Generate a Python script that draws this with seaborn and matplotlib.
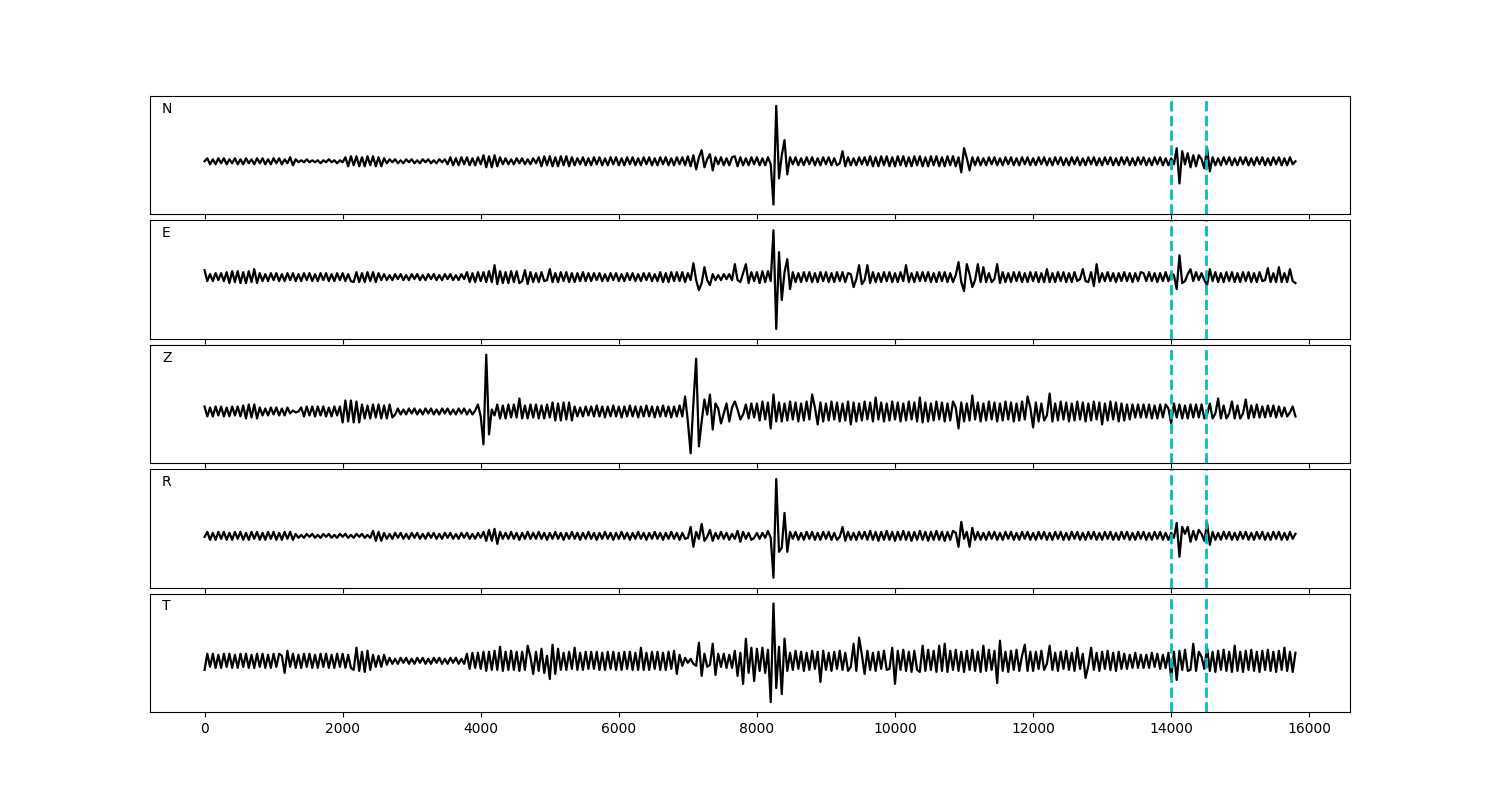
import numpy as np
import pandas as pd
import matplotlib
matplotlib.use("Agg")
import matplotlib.pyplot as plt
import seaborn as sns

STEP = 40  # time units between read-off samples
channels = ["N", "E", "Z", "R", "T"]
picks = [14000, 14500]

N_rows = [
    [0,3,-3,2,-3,3,-2,3,-3,2,-2,3,-3,2,-3,3,-2,2,-3,3],
    [-2,3,-3,2,-3,3,-2,3,-3,2,-2,4,-4,2,-1,1,-1,2,-1,1],
    [-1,1,-2,1,-1,2,-1,1,-2,1,-1,4,-5,5,-4,5,-5,4,-5,5],
    [-4,5,-5,4,-5,3,-2,2,-1,2,-2,1,-2,2,-1,2,-2,1,-2,2],
    [-1,2,-2,1,-2,2,-1,2,-3,4,-4,3,-4,4,-3,4,-4,3,-4,4],
    [-3,6,-6,5,-6,6,-5,4,-3,3,-3,2,-3,3,-2,3,-3,2,-3,3],
    [-2,4,-5,5,-4,5,-5,4,-5,5,-4,5,-5,4,-4,3,-3,4,-4,3],
    [-4,4,-3,4,-4,3,-4,4,-3,4,-4,3,-4,4,-3,4,-4,3,-4,4],
    [-3,4,-4,3,-4,4,-3,4,-4,3,-4,4,-3,4,-4,5,-5,6,-8,4],
    [11,-6,2,7,-9,4,-3,4,-4,3,-4,4,5,-5,4,-4,3,-4,4,-3],
    [4,-4,3,-4,4,-3,-43,55,-17,6,21,-13,4,-3,4,-4,3,-4,4,-3],
    [4,-4,3,-4,4,-3,4,-4,3,-4,-2,10,-5,4,-4,3,-4,4,-3,4],
    [-4,5,-5,4,-5,5,-4,5,-5,4,-5,5,-4,5,-5,4,-5,5,-4,5],
    [-5,4,-5,5,-4,5,-5,4,-5,5,-4,5,-5,4,-11,13,3,-9,4,-4],
    [4,-4,3,-4,4,-3,4,-4,3,-4,4,-3,4,-4,3,-4,4,-3,4,-4],
    [3,-4,4,-3,4,-4,3,-4,4,-3,4,-4,3,-4,4,-3,4,-4,3,-4],
    [4,-3,4,-4,3,-4,4,-3,4,-4,3,-4,4,-3,4,-4,3,-4,4,-3],
    [4,-4,3,-4,4,-3,4,-4,3,-4,3,-3,13,-22,10,-3,8,-6,6,-5],
    [6,2,-7,13,-10,4,-4,3,-4,4,-3,4,-4,3,-4,4,-3,4,-4,3],
    [-4,4,-3,4,-4,3,-4,4,-3,4,-4,3,-4,4,-3,0],
]

E_rows = [
    [7,-4,3,-4,4,-3,4,-4,5,-6,6,-5,6,-6,5,-6,6,-5,8,-6],
    [4,-4,3,-4,4,-3,4,-4,3,-4,4,-3,4,-4,3,-4,4,-3,4,-4],
    [3,-4,4,-3,4,-4,3,-4,4,-3,4,-4,3,-4,-5,5,-5,4,-5,5],
    [-4,5,-5,4,-3,3,-3,2,-3,3,-2,3,-3,2,-3,3,-2,3,-3,2],
    [-3,3,-2,3,-3,2,-3,3,-2,3,-3,2,-3,3,-2,5,-5,4,-5,5],
    [-4,5,-5,6,-5,12,-7,6,-6,5,-6,6,-5,6,-6,-4,7,-7,5,-5],
    [4,-5,5,-4,-3,8,-5,4,-5,5,-4,5,-5,4,-5,4,-4,5,-4,4],
    [-4,4,-3,4,-4,3,-4,4,-3,4,-4,3,-4,4,-3,4,-4,3,-4,4],
    [-3,4,-4,3,-4,5,-5,4,-5,5,-4,5,-4,5,-5,4,-3,14,-3,-13],
    [-6,10,-3,-8,3,-3,2,-3,3,-2,3,-3,13,-3,-5,4,13,-6,5,-4],
    [5,-6,6,-5,6,-4,47,-52,25,-23,5,18,-12,5,-5,4,-5,5,-4,5],
    [-5,4,-5,5,-4,5,-5,4,-5,5,-4,5,-5,4,3,-10,-2,12,-7,-3],
    [12,-6,5,-5,4,-5,5,-4,5,-5,4,-5,5,-4,12,-5,4,-5,5,-4],
    [5,-4,5,-5,4,-5,5,-4,5,-5,4,-5,2,15,-5,-14,13,3,-10,-3],
    [13,-5,10,-5,4,-5,-2,13,-6,5,-5,4,-5,5,-4,5,-5,4,-5,5],
    [-4,5,-5,4,-5,8,-5,4,-5,5,-4,5,-5,4,-5,5,-4,-2,8,-4],
    [-5,5,-9,13,-5,4,-4,5,-4,4,-5,4,-4,5,-4,4,-5,4,-4,5],
    [4,-4,5,-4,4,-5,4,-4,5,-4,4,2,-12,22,-6,-4,3,8,-4,5],
    [-3,4,-3,-8,8,-4,5,-5,4,-5,5,-4,5,-5,4,-5,5,-4,5,-5],
    [4,-5,5,-4,-3,9,-5,4,-5,10,-5,4,-5,8,-4,-6],
]

Z_rows = [
    [5,-5,4,-5,5,-4,5,-5,4,-5,5,-4,5,-5,6,-7,7,-6,7,-7],
    [4,-4,3,-4,4,-3,4,-4,3,-4,4,-2,1,-1,0,4,-5,5,-4,5],
    [-5,5,-4,5,-5,4,-5,5,-4,5,-11,11,-10,11,-11,10,-11,7,-7,6],
    [-7,7,-6,7,-7,6,-7,7,-6,-3,3,-3,2,-3,3,-2,3,-3,2,-3],
    [3,-2,3,-3,2,-3,3,-2,3,-3,2,-3,3,-2,3,-3,2,-3,1,7],
    [-5,-33,57,-23,2,-4,7,-7,6,-7,7,-6,7,-6,13,-7,6,-7,7,-6],
    [7,-7,6,-7,7,-6,9,-9,8,-9,9,-8,9,-9,5,-5,4,-5,5,-4],
    [5,-5,6,-5,5,-6,5,-5,6,-5,5,-6,5,-5,6,-5,5,-6,5,-5],
    [6,-5,5,-6,5,-5,6,-5,5,-6,5,-5,6,-5,15,-10,-42,8,53,-35],
    [-10,12,-3,17,-18,8,3,-12,-2,8,-10,4,10,2,-8,-3,7,-7,8,-6],
    [8,-9,10,-8,9,-17,17,-10,9,-10,8,-9,10,-8,9,-10,8,-9,10,-8],
    [17,4,-13,9,-10,8,-9,10,-8,9,-10,8,-9,10,-13,9,-10,8,-9,10],
    [-8,9,-10,14,-8,9,-10,8,-9,10,-8,9,-10,8,-9,10,-8,9,-10,14],
    [-11,9,-10,8,-9,10,-8,9,-10,8,-9,10,4,-17,9,-10,8,-9,16,-8],
    [9,-10,8,-9,10,-8,9,-10,8,-9,10,-8,9,-10,8,-9,10,-8,15,4],
    [-16,9,-10,8,-9,-4,18,-10,8,-9,10,-8,9,-10,8,-9,10,-8,9,-10],
    [8,-9,10,-8,9,-13,8,-9,10,-8,9,-10,8,-9,7,-8,7,-6,7,-6],
    [7,-6,7,-7,6,-7,7,-6,7,3,-12,8,-6,7,-7,6,-7,7,-6,7],
    [-6,7,-7,-3,8,-7,-2,13,-7,6,-7,-2,10,-7,6,-7,-2,12,-7,6],
    [-6,7,-6,5,-6,6,-5,6,-6,5,-5,4,-5,-1,5,-5],
]

R_rows = [
    [-1,4,-4,3,-4,4,-3,4,-4,3,-4,4,-3,4,-4,3,-4,4,-3,4],
    [-4,3,-4,4,-3,4,-4,3,-4,4,-3,4,-4,2,-2,1,-2,2,-1,2],
    [-2,1,-2,2,-1,2,-2,1,-2,2,-1,2,-2,1,-2,2,-1,2,-2,1],
    [-2,5,-5,4,-5,3,-3,2,-3,3,-2,3,-3,2,-3,3,-2,3,-3,2],
    [-3,3,-2,3,-3,2,-3,3,-2,3,-3,2,-3,3,-2,3,-3,2,-3,3],
    [-2,4,-5,6,-5,7,-8,4,-3,3,-3,4,-3,3,-4,3,-3,4,-3,3],
    [-3,4,-3,3,-4,3,-3,4,-3,3,-4,3,-3,4,-3,3,-4,3,-3,4],
    [-3,3,-4,3,-3,4,-3,3,-4,3,-3,4,-3,3,-4,3,-3,4,-3,3],
    [-4,3,-3,4,-3,3,-4,3,-3,4,-3,3,-4,3,-3,-2,9,-11,4,-3],
    [12,-5,-1,6,-5,3,-3,4,-3,3,-4,2,-3,5,-6,4,-3,3,-4,-2],
    [3,-3,3,-2,5,-2,-42,57,-16,-12,23,-16,4,-3,4,-4,3,-4,4,-3],
    [4,-4,3,-4,4,-3,4,-4,3,-4,-1,9,-5,4,-4,3,-4,4,-3,4],
    [-4,5,-4,4,-5,4,-4,5,-4,4,-5,4,-4,5,-4,4,-5,4,-4,5],
    [-4,4,-5,4,-4,5,-4,4,-5,4,-4,5,3,-11,14,-3,4,-11,8,-4],
    [4,-4,3,-4,4,-3,4,-4,3,-4,4,-3,4,-4,3,-4,4,-3,4,-4],
    [3,-4,4,-3,4,-4,3,-4,4,-3,4,-4,3,-4,4,-3,4,-4,3,-4],
    [4,-3,4,-4,3,-4,4,-3,4,-4,3,-4,4,-3,4,-4,3,-4,4,-3],
    [4,-4,3,-4,4,-3,4,-4,3,-4,3,-2,13,-21,9,2,9,-6,5,-4],
    [6,2,-5,13,-9,4,-4,3,-4,4,-3,4,-4,3,-4,4,-3,4,-4,3],
    [-4,4,-3,4,-4,3,-4,4,-3,4,-4,3,-4,4,-3,2],
]

T_rows = [
    [-9,7,-6,7,-7,6,-7,7,-6,7,-7,6,-7,7,-6,7,-7,6,-7,7],
    [-6,7,-7,6,-7,7,-6,7,5,-12,10,-6,7,-7,6,-7,7,-6,7,-7],
    [6,-7,7,-6,7,-7,6,-7,7,-6,7,-7,6,-7,-9,13,-10,9,-11,10],
    [-9,6,-6,5,-6,6,-4,3,-3,2,-3,3,-2,3,-3,2,-3,3,-2,3],
    [-3,2,-3,3,-2,3,-3,2,-3,3,-2,3,-3,2,-3,7,-8,8,-7,8],
    [-8,9,-10,9,-9,10,-9,14,-10,9,-9,10,-9,9,-10,9,-9,15,4,-13],
    [9,-10,12,-12,5,-18,16,-13,12,-9,8,-9,9,-8,13,-9,8,-9,9,-8],
    [9,-8,9,-9,8,-9,9,-8,9,-9,8,-9,9,-8,9,-9,8,-9,13,-9],
    [8,-9,9,-8,9,-9,8,-9,9,-8,10,-13,6,-5,3,-2,2,-3,-5,18],
    [-15,7,-6,-4,17,-14,7,-6,7,-7,6,-7,10,-15,8,-23,22,-12,13,-20],
    [12,-10,13,-12,11,-41,57,-27,14,-33,22,-10,8,-9,10,-8,9,-10,8,-9],
    [10,-8,9,-21,10,-9,8,-10,9,-8,10,-9,8,-10,-6,17,-10,23,6,-13],
    [10,-9,8,-10,9,-8,10,-9,-8,13,-23,10,-9,11,-10,9,-11,10,-9,-11],
    [15,-10,11,-9,10,-11,15,-10,17,-11,10,-9,11,-10,9,-11,10,-9,11,-10],
    [9,-11,15,-10,11,-9,10,-22,20,-10,9,-11,10,-9,11,-10,5,16,-10,9],
    [-10,9,-8,10,-9,-3,15,-9,8,-10,9,-8,10,-9,8,-10,13,-8,7,-17],
    [-5,13,-9,8,-10,9,-8,10,-9,8,-10,9,-8,7,-8,6,-7,8,-7,6],
    [-7,6,-7,8,-6,7,-8,6,-7,8,-17,9,-19,10,-9,11,-10,-9,17,-10],
    [9,4,-8,13,-10,9,-11,10,-9,11,-10,9,-11,15,-10,9,-11,10,-9,11],
    [-10,9,-11,10,-9,11,-10,9,-11,10,-9,13,-10,9,-11,8],
]

traces = {
    "N": sum(N_rows, []),
    "E": sum(E_rows, []),
    "Z": sum(Z_rows, []),
    "R": sum(R_rows, []),
    "T": sum(T_rows, []),
}

fig, axes = plt.subplots(5, 1, figsize=(15, 8), dpi=100, sharex=True)
fig.subplots_adjust(left=0.1, right=0.9, top=0.88, bottom=0.11, hspace=0.05)

for ax, ch in zip(axes, channels):
    vals = traces[ch]
    df = pd.DataFrame({"time": np.arange(len(vals)) * STEP, "amp": vals})
    sns.lineplot(data=df, x="time", y="amp", ax=ax, color="black",
                 linewidth=1.6, estimator=None)
    for p in picks:
        ax.axvline(p, color="c", linestyle="--", linewidth=2)
    ax.margins(y=0.1)
    ax.set_yticks([])
    ax.set_xlabel("")
    ax.set_ylabel("")
    ax.text(0.01, 0.95, ch, transform=ax.transAxes, va="top", ha="left", fontsize=10)

axes[-1].set_xticks([0, 2000, 4000, 6000, 8000, 10000, 12000, 14000, 16000])

fig.savefig("out.png", dpi=100)
